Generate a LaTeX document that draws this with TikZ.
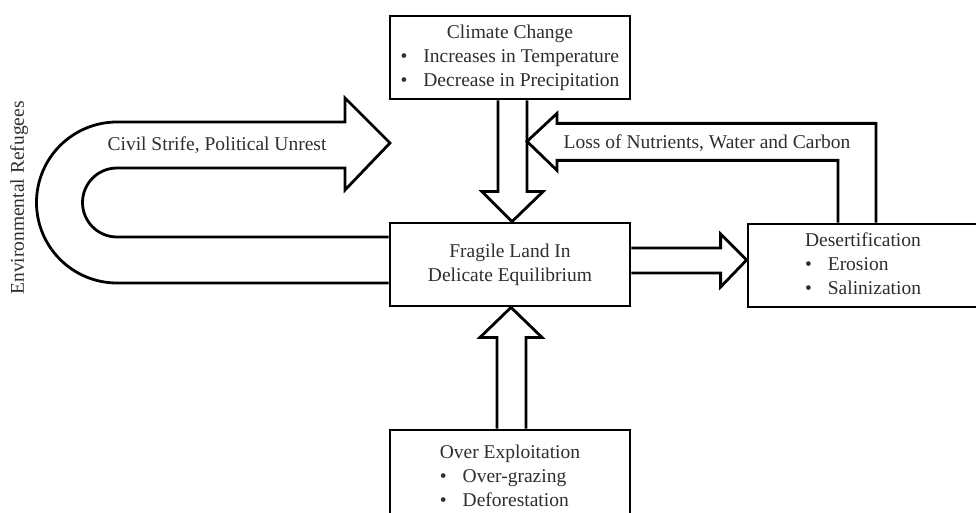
\documentclass[tikz,border=0pt]{standalone}
\usepackage{fontspec}
\setmainfont{Liberation Serif}
\usetikzlibrary{calc}
\definecolor{ink}{HTML}{2E2E2E}

\begin{document}
\begin{tikzpicture}[x=1pt, y=1pt,
  box/.style={draw=black, line width=2.8pt, fill=white, text=ink,
              minimum width=#1, minimum height=83pt, inner sep=0pt,
              align=center, font=\fontsize{19.5}{24}\selectfont},
  fat/.style={draw=black, line width=2.8pt, line join=miter},
  lbl/.style={text=ink, inner sep=0pt, font=\fontsize{19.5}{24}\selectfont}]

\useasboundingbox (0,0) rectangle (976,512);

% Boxes
\node[box=240pt] (climate) at (510,454.5) {%
  \begin{tabular}{@{}c@{\hspace{16pt}}l@{}}
  \multicolumn{2}{@{}c@{}}{Climate Change}\\
  \textbullet & Increases in Temperature\\
  \textbullet & Decrease in Precipitation
  \end{tabular}};
\node[box=240pt] (fragile) at (510,247.5) {Fragile Land In\\Delicate Equilibrium};
\node[box=230pt] (desert) at (863,246.5) {%
  \begin{tabular}{@{}c@{\hspace{16pt}}l@{}}
  \multicolumn{2}{@{}l@{}}{Desertification}\\
  \textbullet & Erosion\\
  \textbullet & Salinization
  \end{tabular}};
\node[box=240pt, minimum height=96pt] (over) at (510,34) {%
  \begin{tabular}{@{}c@{\hspace{16pt}}l@{}}
  \multicolumn{2}{@{}c@{}}{Over Exploitation}\\
  \textbullet & Over-grazing\\
  \textbullet & Deforestation
  \end{tabular}};

% Hollow arrows
\draw[fat] ($(climate.south)+(-12,0)$) -- ($(fragile.north)+(-12,30)$)
  -- ($(fragile.north)+(-28,30)$) -- ($(fragile.north)+(2,0)$)
  -- ($(fragile.north)+(33,30)$) -- ($(fragile.north)+(17,30)$)
  -- ($(climate.south)+(17,0)$);
\draw[fat] ($(over.north)+(-13,0)$) -- ($(fragile.south)+(-13,-30)$)
  -- ($(fragile.south)+(-30,-30)$) -- ($(fragile.south)+(1,0)$)
  -- ($(fragile.south)+(32,-30)$) -- ($(fragile.south)+(16,-30)$)
  -- ($(over.north)+(16,0)$);
\draw[fat] ($(fragile.east)+(0,16.5)$) -- ($(desert.west)+(-26,17.5)$)
  -- ($(desert.west)+(-26,31.5)$) -- ($(desert.west)+(0,5.5)$)
  -- ($(desert.west)+(-26,-21.5)$) -- ($(desert.west)+(-26,-7.5)$)
  -- ($(fragile.east)+(0,-8.5)$);
\draw[fat] ($(desert.north)+(-25,0)$) |- ($(climate.south)+(47,-60)$)
  -- ($(climate.south)+(47,-70)$) -- ($(climate.south)+(17,-41)$)
  -- ($(climate.south)+(47,-13)$) -- ($(climate.south)+(47,-23)$)
  -| ($(desert.north)+(13,0)$);

% U-turn arrow
\coordinate (strife) at (390,369);
\draw[fat] ($(fragile.west)+(0,-18.5)$) -- (117,229)
  arc[start angle=-90, end angle=-270, radius=80.5] -- (345,390)
  -- (345,414) -- (strife) -- (345,322) -- (345,344) -- (117,344)
  arc[start angle=90, end angle=270, radius=34.5]
  -- ($(fragile.west)+(0,27.5)$);

% Labels
\node[lbl] (unrest) at (217,367) {Civil Strife, Political Unrest};
\node[lbl] (loss) at (707,369) {Loss of Nutrients, Water and Carbon};
\node[lbl, rotate=90] (refugees) at (19,314) {Environmental Refugees};

\end{tikzpicture}
\end{document}
